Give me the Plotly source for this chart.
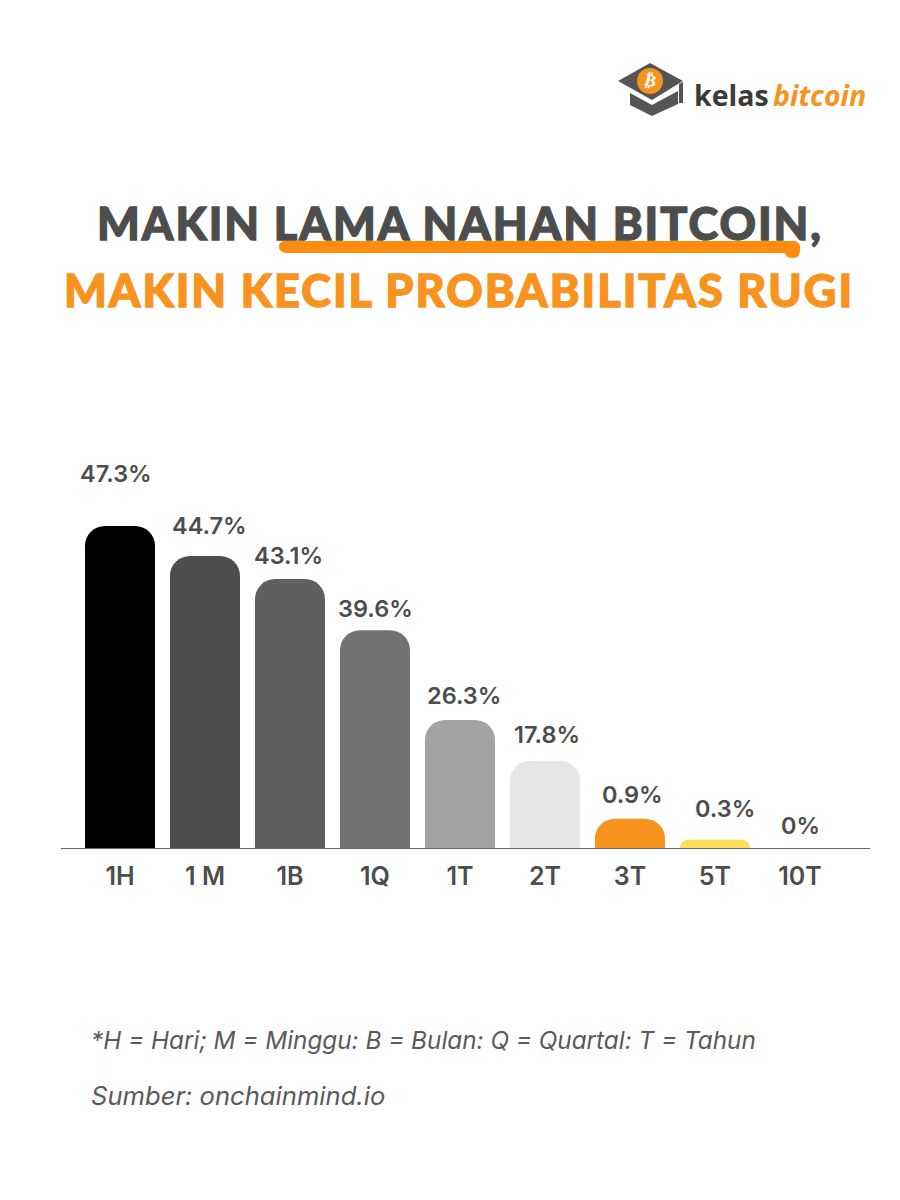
import plotly.graph_objects as go

# Categories and printed values, as shown in the reference
categories = ["1H", "1 M", "1B", "1Q", "1T", "2T", "3T", "5T", "10T"]
value_labels = ["47.3%", "44.7%", "43.1%", "39.6%", "26.3%", "17.8%", "0.9%", "0.3%", "0%"]
# Bar heights as drawn in the picture (the source bars are not proportional to their labels)
drawn_heights = [47.3, 42.9, 39.5, 32.0, 18.8, 12.8, 4.3, 1.2, 0]
bar_colors = ["#000000", "#4d4d4d", "#615f5e", "#737373", "#a3a3a3", "#e7e6e6", "#f7931e", "#ffde59", "#ffffff"]

DARK = "#4d4d4d"
ORANGE = "#f7931e"
W, H = 900, 1200
ML, MR, MT, MB = 61, 30, 400, 352
PW, PH = W - ML - MR, H - MT - MB
def X(p): return (p - ML) / PW
def Y(p): return 1 - (p - MT) / PH

fig = go.Figure(go.Bar(x=categories, y=drawn_heights, marker=dict(color=bar_colors, line_width=0),
                       hoverinfo="skip"))

# value labels: offsets from bar top
label_dy = [52, 30, 24, 22, 25, 26, 24, 31, 23]
label_dx = [-4, 5, -1, 1, 4, 2, 3, 10, 1]
annotations = []
for c, h, t, dy, dx in zip(categories, drawn_heights, value_labels, label_dy, label_dx):
    annotations.append(dict(x=c, y=h, xref="x", yref="y", text=t, showarrow=False, yshift=dy, xshift=dx,
                            yanchor="middle", font=dict(family="Inter", size=23.5, color=DARK, weight=600)))

def txt(px, py, text, size, color, family="Lato", weight=400, style="normal", anchor="center", angle=0):
    annotations.append(dict(x=X(px), y=Y(py), xref="paper", yref="paper", text=text, showarrow=False,
                            xanchor=anchor, yanchor="middle", textangle=angle,
                            font=dict(family=family, size=size, color=color, weight=weight, style=style)))

# headline
txt(460, 223, "MAKIN LAMA NAHAN BITCOIN,", 45, DARK, weight=900)
txt(459, 290, "MAKIN KECIL PROBABILITAS RUGI", 45, ORANGE, weight=900)
# footnotes
txt(89, 1040, "*H = Hari; M = Minggu: B = Bulan: Q = Quartal: T = Tahun", 24.3, "#5a5a5a", family="Inter", style="italic", anchor="left")
txt(89, 1095, "Sumber: onchainmind.io", 25.6, "#5a5a5a", family="Inter", style="italic", anchor="left")
# logo wordmark
txt(692, 95, "kelas", 28.5, "#3a3a3a", family="Open Sans", weight=700, anchor="left")
txt(771, 95, "bitcoin", 28.5, ORANGE, family="Open Sans", weight=700, style="italic", anchor="left")
txt(650, 80, "₿", 17, "#ffffff", family="DejaVu Sans", weight=700, angle=14)

def path(points, color):
    d = "M " + " L ".join(f"{X(a):.5f},{Y(b):.5f}" for a, b in points) + " Z"
    return dict(type="path", xref="paper", yref="paper", path=d, fillcolor=color, line_width=0)

def P(a, b): return f"{X(a):.5f},{Y(b):.5f}"

underline = (f"M {P(285, 241)} L {P(795, 241)} Q {P(801, 243)} {P(800, 250)} Q {P(800, 258)} {P(793, 258)} "
             f"Q {P(786, 258)} {P(785, 253)} L {P(286, 253)} Q {P(279, 252)} {P(279, 247)} Q {P(279, 241)} {P(285, 241)} Z")

shapes = [
    # logo cap
    path([(650, 63), (683, 81), (652, 100), (618, 81)], "#555555"),
    path([(630, 93), (652, 105), (678, 91), (678, 104), (652, 116), (630, 105)], "#555555"),
    path([(679, 84), (683, 82), (683, 103), (679, 103)], "#555555"),
    dict(type="circle", xref="paper", yref="paper", x0=X(637), x1=X(663), y0=Y(94), y1=Y(68),
         fillcolor=ORANGE, line_width=0),
    # headline underline
    dict(type="path", xref="paper", yref="paper", path=underline, fillcolor="#ff8c0f", line_width=0),
]

fig.update_layout(
    width=W, height=H, autosize=False, showlegend=False, template="none",
    paper_bgcolor="#ffffff", plot_bgcolor="rgba(0,0,0,0)",
    margin=dict(l=ML, r=MR, t=MT, b=MB, pad=0),
    bargap=0.176, barcornerradius=20,
    annotations=annotations, shapes=shapes,
    xaxis=dict(type="category", categoryorder="array", categoryarray=categories,
               range=[-0.694, 8.824], showgrid=False, zeroline=False, showline=True,
               linecolor="#666666", linewidth=1, ticks="", ticklabelstandoff=6,
               tickfont=dict(family="Inter", size=25, color=DARK, weight=600), fixedrange=True),
    yaxis=dict(range=[0, 65.8], visible=False, fixedrange=True),
)
spacing_js = """
document.body.style.margin='0';
document.querySelectorAll('.annotation-text').forEach(function(t){
  if (t.textContent.indexOf('MAKIN') === 0) {
    t.style.letterSpacing = '2px';
    t.style.stroke = t.style.fill;
    t.style.strokeWidth = '1.3px';
  }
});
"""
fig.write_html("out.html", config={"displayModeBar": False}, post_script=spacing_js)
